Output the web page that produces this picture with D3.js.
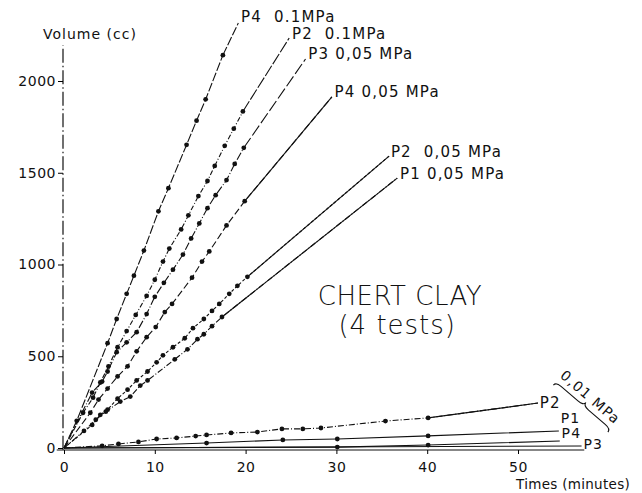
<!DOCTYPE html>
<html>
<head>
<meta charset="utf-8">
<script src="https://cdn.jsdelivr.net/npm/d3@7"></script>
<style>
  body { margin: 0; background: #fff; }
  text { font-family: "DejaVu Sans", sans-serif; fill: #111; white-space: pre; }
</style>
</head>
<body>
<div id="chart"></div>
<script>
// ticks
const xTicks = [0, 10, 20, 30, 40, 50];
const yTicks = [0, 500, 1000, 1500, 2000];

// time (minutes) / volume (cc)
const p4_01_t = [1.4, 4.8, 5.8, 6.9, 7.7, 8.8, 10.4, 11.5, 13.5, 14.6, 15.6, 17.5];
const p4_01_v = [148, 571, 703, 840, 939, 1076, 1290, 1416, 1652, 1784, 1900, 2141];

const p2_01_t = [2.1, 3.2, 4.0, 4.9, 5.9, 6.9, 7.9, 9.1, 10.0, 10.9, 11.6, 12.9, 13.7, 14.8, 15.8, 16.6, 17.7, 18.7, 19.7];
const p2_01_v = [192, 274, 357, 445, 549, 637, 725, 829, 917, 1016, 1087, 1191, 1268, 1373, 1455, 1537, 1647, 1740, 1834];

const p3_005_t = [3.1, 4.2, 4.8, 5.8, 6.9, 8.0, 9.1, 10.0, 11.0, 12.0, 13.1, 14.0, 14.9, 15.8, 16.7, 17.9, 18.8, 19.8];
const p3_005_v = [302, 362, 417, 522, 576, 631, 730, 824, 900, 972, 1054, 1142, 1224, 1307, 1378, 1460, 1548, 1636];

const p4_005_t = [2.9, 3.8, 4.8, 5.9, 7.0, 8.0, 9.1, 10.1, 11.1, 11.9, 14.1, 15.2, 16.0, 17.9, 19.9];
const p4_005_v = [192, 264, 324, 390, 445, 527, 604, 659, 741, 785, 928, 1016, 1071, 1213, 1345];

const p2_005_t = [3.1, 4.0, 4.8, 5.9, 7.0, 8.0, 9.2, 10.2, 10.9, 12.0, 13.3, 14.2, 15.4, 16.3, 17.1, 18.2, 19.1, 20.2];
const p2_005_v = [126, 181, 209, 269, 318, 368, 417, 467, 505, 549, 598, 653, 703, 747, 785, 840, 884, 933];

const p1_005_t = [2.2, 3.5, 4.6, 6.2, 7.3, 8.4, 9.2, 12.2, 13.6, 14.7, 15.4, 16.3, 17.4];
const p1_005_v = [93, 154, 198, 253, 280, 340, 368, 483, 538, 593, 620, 664, 714];

const p2_001_t = [4.2, 6.0, 8.2, 10.2, 12.4, 14.5, 15.7, 18.4, 21.3, 24.0, 26.3, 28.3, 35.4, 40.1];
const p2_001_v = [12, 22, 33, 49, 55, 65, 71, 82, 87, 104, 104, 109, 147, 164];

const p1_001_t = [15.7, 24.1, 30.1, 40.1];
const p1_001_v = [27, 44, 49, 66];

const p4_001_t = [30.1, 40.1];
const p4_001_v = [5, 16];

const p3_001_t = [];
const p3_001_v = [];

// series: where the line runs out to, and where its label sits (data units)
const series = [
  { name: "P4  0.1MPa",   t: p4_01_t,  v: p4_01_v,  end: [19.2, 2316], at: [19.5, 2322], size: 15, dash: "9,2",     lead: "9,2" },
  { name: "P2  0.1MPa",   t: p2_01_t,  v: p2_01_v,  end: [24.8, 2234], at: [25.1, 2228], size: 15, dash: "5,2,1,2", lead: "12,2" },
  { name: "P3 0,05 MPa",  t: p3_005_t, v: p3_005_v, end: [26.6, 2120], at: [26.9, 2118], size: 15, dash: "8,2,1,2", lead: "12,3" },
  { name: "P4 0,05 MPa",  t: p4_005_t, v: p4_005_v, end: [29.5, 1913], at: [29.8, 1912], size: 15, dash: "7,3",     lead: null },
  { name: "P2  0,05 MPa", t: p2_005_t, v: p2_005_v, end: [35.8, 1591], at: [36.0, 1584], size: 15, dash: "3,2",     lead: null },
  { name: "P1 0,05 MPa",  t: p1_005_t, v: p1_005_v, end: [36.7, 1471], at: [37.0, 1466], size: 15, dash: "6,2,1,2", lead: null },
  { name: "P2",           t: p2_001_t, v: p2_001_v, end: [52.2, 245],  at: [52.4, 220],  size: 15, dash: "6,2,1,2", lead: null },
  { name: "P1",           t: p1_001_t, v: p1_001_v, end: [54.5, 93],   at: [54.7, 136],  size: 14, dash: "12,3",    lead: null },
  { name: "P4",           t: p4_001_t, v: p4_001_v, end: [54.6, 38],   at: [54.8, 55],   size: 14, dash: "8,3",     lead: null },
  { name: "P3",           t: p3_001_t, v: p3_001_v, end: [57.0, 11],   at: [57.2, -6],   size: 14, dash: "5,2,1,2", lead: null }
];

const W = 642, H = 493;
const svg = d3.select("#chart").append("svg").attr("width", W).attr("height", H);

const x = d3.scaleLinear().domain([0, 50]).range([64, 518]);
const y = d3.scaleLinear().domain([0, 2000]).range([448, 81]);

// y axis (dash-dot line)
svg.append("line")
    .attr("x1", x(0) - 1).attr("x2", x(0) - 1)
    .attr("y1", y(-10)).attr("y2", y(2195))
    .attr("stroke", "#111").attr("stroke-width", 1.2)
    .attr("stroke-dasharray", "14,3,1.5,3");

const gy = svg.append("g").attr("transform", `translate(${x(0) - 1},0)`)
    .call(d3.axisLeft(y).tickValues(yTicks).tickFormat(d3.format("d")).tickSize(5).tickPadding(2));
gy.select(".domain").remove();
gy.selectAll("text").style("font-size", "14px").style("letter-spacing", "0.5px");

// x axis
svg.append("line")
    .attr("x1", x(-0.8)).attr("x2", x(57.3))
    .attr("y1", y(0) + 2).attr("y2", y(0) + 2)
    .attr("stroke", "#111").attr("stroke-width", 1.2);

const gx = svg.append("g").attr("transform", `translate(0,${y(0) + 2})`)
    .call(d3.axisBottom(x).tickValues(xTicks).tickSize(4).tickPadding(8));
gx.select(".domain").remove();
gx.selectAll("text").style("font-size", "14px").style("letter-spacing", "0.5px");

svg.append("text").attr("x", 43).attr("y", 39)
    .style("font-size", "14px").style("letter-spacing", "1px")
    .text("Volume (cc)");

svg.append("text").attr("x", 516).attr("y", 489)
    .style("font-size", "13.5px").style("letter-spacing", "0.3px")
    .text("Times (minutes)");

// lines and points
const line = d3.line().x(d => x(d[0])).y(d => y(d[1]));

series.forEach(s => {
  const pts = [[0, 0]].concat(s.t.map((t, i) => [t, s.v[i]]));
  const last = pts[pts.length - 1];

  if (s.lead === null) {
    pts.push(s.end);
    svg.append("path").datum(pts)
        .attr("d", line).attr("fill", "none")
        .attr("stroke", "#111").attr("stroke-width", 1.1)
        .attr("stroke-dasharray", s.t.length > 5 ? s.dash : null);
    if (s.t.length > 5) {
      // leader after the last point is solid
      svg.append("path").datum([last, s.end])
          .attr("d", line).attr("fill", "none")
          .attr("stroke", "#111").attr("stroke-width", 1.1);
    }
  } else {
    svg.append("path").datum(pts)
        .attr("d", line).attr("fill", "none")
        .attr("stroke", "#111").attr("stroke-width", 1.1)
        .attr("stroke-dasharray", s.dash);
    svg.append("path").datum([last, s.end])
        .attr("d", line).attr("fill", "none")
        .attr("stroke", "#111").attr("stroke-width", 1.1)
        .attr("stroke-dasharray", s.lead);
  }

  svg.selectAll(null).data(s.t.map((t, i) => [t, s.v[i]]))
      .enter().append("circle")
      .attr("cx", d => x(d[0])).attr("cy", d => y(d[1]))
      .attr("r", 2.4).attr("fill", "#111");

  svg.append("text")
      .attr("x", x(s.at[0])).attr("y", y(s.at[1]))
      .style("font-size", s.size + "px").style("letter-spacing", "1.2px")
      .text(s.name);
});

// brace for the 0.01 MPa group
const A = [x(53.9), y(343)], B = [x(59.9), y(87)];
const L = Math.hypot(B[0] - A[0], B[1] - A[1]);
const u = [(B[0] - A[0]) / L, (B[1] - A[1]) / L];
const n = [u[1], -u[0]];
const M = [(A[0] + B[0]) / 2, (A[1] + B[1]) / 2];
const w = 4, q = 7;
const P = (p, a, b) => [p[0] + u[0] * a + n[0] * b, p[1] + u[1] * a + n[1] * b];
const br = d3.path();
br.moveTo(...A);
br.quadraticCurveTo(...P(A, 0, w), ...P(A, q, w));
br.lineTo(...P(M, -q, w));
br.quadraticCurveTo(...P(M, 0, w), ...P(M, 0, 2 * w));
br.quadraticCurveTo(...P(M, 0, w), ...P(M, q, w));
br.lineTo(...P(B, -q, w));
br.quadraticCurveTo(...P(B, 0, w), ...B);
svg.append("path").attr("d", br.toString())
    .attr("fill", "none").attr("stroke", "#111").attr("stroke-width", 1.1);

const ang = Math.atan2(u[1], u[0]) * 180 / Math.PI;
const tc = P(M, 0, 15);
svg.append("text")
    .attr("transform", `translate(${tc[0]},${tc[1]}) rotate(${ang})`)
    .attr("text-anchor", "middle").attr("dy", "0.35em")
    .style("font-size", "14px").style("letter-spacing", "1.2px")
    .text("0,01 MPa");

// title
svg.append("text").attr("x", x(37)).attr("y", y(780))
    .attr("text-anchor", "middle")
    .style("font-size", "26px").style("font-weight", "300").style("letter-spacing", "0.5px")
    .text("CHERT CLAY");
svg.append("text").attr("x", x(36.7)).attr("y", y(620))
    .attr("text-anchor", "middle")
    .style("font-size", "26px").style("font-weight", "300").style("letter-spacing", "1px")
    .text("(4 tests)");
</script>
</body>
</html>
